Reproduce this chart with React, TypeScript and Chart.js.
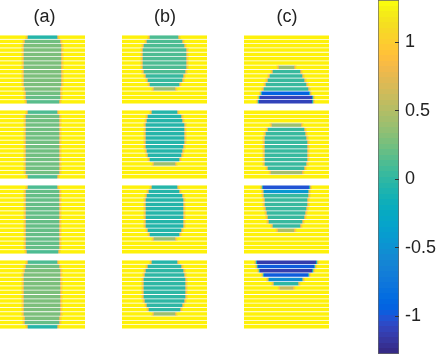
import React, { useEffect, useRef } from "react";
import { Chart, registerables } from "chart.js";

Chart.register(...registerables);

const rowLabels = ["1","2","3","4","5","6","7","8","9","10","11","12","13","14","15","16"];
const panelTitles = ["(a)", "(b)", "(c)"];
const colorTicks = [-1, -0.5, 0, 0.5, 1];
const colorMin = -1.277;
const colorMax = 1.307;
const background = 1.3;

// blob extent on each row (left edge, right edge) and field value inside it
const a1Left = [28,25,24,24,24,24,24,24,24,24,24,24,25,26,26,27];
const a1Right = [57,60,61,61,61,61,61,61,61,61,61,61,60,60,60,59];
const a1Value = [-0.05,0.25,0.3,0.3,0.3,0.3,0.3,0.3,0.3,0.3,0.3,0.3,0.3,0.25,0.2,0.15];
const a2Left = [28,26,26,26,26,26,26,26,26,26,26,26,26,26,26,28];
const a2Right = [57,59,59,59,59,59,59,59,59,59,59,59,59,59,59,57];
const a2Value = [0.12,0.25,0.25,0.25,0.25,0.25,0.25,0.25,0.25,0.25,0.25,0.25,0.25,0.25,0.25,0.1];
const a3Left = [28,26,26,26,26,26,26,26,26,26,26,26,26,26,26,27];
const a3Right = [57,59,59,59,59,59,59,59,59,59,59,59,59,59,59,58];
const a3Value = [0.12,0.22,0.22,0.22,0.22,0.22,0.22,0.22,0.22,0.22,0.22,0.22,0.22,0.22,0.22,0.1];
const a4Left = [28,26,25,24,24,24,24,24,24,24,24,24,24,25,25,28];
const a4Right = [57,59,60,60,60,60,60,60,60,60,60,60,60,59,59,57];
const a4Value = [0.12,0.25,0.3,0.3,0.3,0.3,0.3,0.3,0.3,0.3,0.3,0.3,0.3,0.3,0.2,-0.05];

const b1Left = [28,25,22,21,21,21,21,21,22,24,26,28,32,0,0,0];
const b1Right = [56,60,62,64,64,64,64,64,63,61,60,57,53,0,0,0];
const b1Value = [0.12,0.1,0.1,0.1,0.1,0.1,0.1,0.1,0.1,0.05,0.05,0.05,0.42,1.3,1.3,1.3];
const b2Left = [30,26,25,24,24,24,24,24,24,25,26,28,32,0,0,0];
const b2Right = [55,59,60,62,62,62,62,62,61,60,59,57,53,0,0,0];
const b2Value = [-0.05,-0.05,-0.05,-0.05,-0.05,-0.05,-0.05,-0.05,-0.05,-0.05,-0.05,-0.05,0.42,1.3,1.3,1.3];
const b3Left = [30,27,25,24,24,24,24,24,24,24,26,28,32,0,0,0];
const b3Right = [55,57,60,61,61,61,61,61,61,61,59,57,53,0,0,0];
const b3Value = [-0.05,-0.05,-0.05,-0.05,-0.05,-0.05,-0.05,-0.05,-0.05,-0.05,-0.05,-0.05,0.42,1.3,1.3,1.3];
const b4Left = [30,26,24,23,22,22,22,22,22,23,25,27,32,0,0,0];
const b4Right = [55,59,61,62,63,63,63,63,63,62,60,58,53,0,0,0];
const b4Value = [-0.05,-0.02,-0.02,-0.02,-0.02,-0.02,-0.02,-0.02,-0.02,-0.02,-0.02,-0.02,0.42,1.3,1.3,1.3];

const c1Left = [0,0,0,0,0,0,0,35,29,26,24,22,20,18,16,15];
const c1Right = [0,0,0,0,0,0,0,50,56,58,60,62,64,65,68,68];
const c1Value = [1.3,1.3,1.3,1.3,1.3,1.3,1.3,0.42,0.05,0.05,0.05,0.05,0.05,-0.95,-1.1,-1.1];
const c2Left = [0,0,0,28,24,22,21,21,21,21,21,21,21,24,27,0];
const c2Right = [0,0,0,57,60,61,62,63,63,63,63,63,62,60,58,0];
const c2Value = [1.3,1.3,1.3,0.42,0.05,0.05,0.05,0.05,0.05,0.05,0.05,0.05,0.05,0.05,0.45,1.3];
const c3Left = [19,20,20,21,21,22,23,24,25,29,34,0,0,0,0,0];
const c3Right = [65,64,64,63,63,62,61,60,58,56,50,0,0,0,0,0];
const c3Value = [-1.05,-0.45,0.02,0.02,0.02,0.02,0.02,0.02,0.02,0.05,0.5,1.3,1.3,1.3,1.3,1.3];
const c4Left = [13,14,16,20,25,30,36,0,0,0,0,0,0,0,0,0];
const c4Right = [72,70,68,64,58,54,49,0,0,0,0,0,0,0,0,0];
const c4Value = [-1.15,-1.0,-1.15,-1.0,-0.55,0,0.6,1.3,1.3,1.3,1.3,1.3,1.3,1.3,1.3,1.3];

const panels = [
  [a1Left, a1Right, a1Value, 0, 35], [a2Left, a2Right, a2Value, 0, 110], [a3Left, a3Right, a3Value, 0, 185], [a4Left, a4Right, a4Value, 0, 260],
  [b1Left, b1Right, b1Value, 122, 35], [b2Left, b2Right, b2Value, 122, 110], [b3Left, b3Right, b3Value, 122, 185], [b4Left, b4Right, b4Value, 122, 260],
  [c1Left, c1Right, c1Value, 244, 35], [c2Left, c2Right, c2Value, 244, 110], [c3Left, c3Right, c3Value, 244, 185], [c4Left, c4Right, c4Value, 244, 260],
] as [number[], number[], number[], number, number][];

const PANEL_W = 85;
const PANEL_H = 69;
const STRIPE_YELLOW = "rgb(254,241,10)";

const parula: number[][] = [
  [.2081,.1663,.5292],[.2116,.1898,.5777],[.2123,.2138,.627],[.2081,.2386,.6771],[.1959,.2645,.7279],[.1707,.2919,.7792],[.1253,.3242,.8303],[.0591,.3598,.8683],
  [.0117,.3875,.882],[.006,.4086,.8828],[.0165,.4266,.8786],[.0329,.443,.872],[.0498,.4586,.8641],[.0629,.4737,.8554],[.0723,.4887,.8467],[.0779,.504,.8384],
  [.0793,.52,.8312],[.0749,.5375,.8263],[.0641,.557,.824],[.0488,.5772,.8228],[.0343,.5966,.8199],[.0265,.6137,.8135],[.0239,.6287,.8038],[.0231,.6418,.7913],
  [.0228,.6535,.7768],[.0267,.6642,.7607],[.0384,.6743,.7436],[.059,.6838,.7254],[.0843,.6928,.7062],[.1133,.7015,.6859],[.1453,.7098,.6646],[.1801,.7177,.6424],
  [.2178,.725,.6193],[.2586,.7317,.5954],[.3022,.7376,.5712],[.3482,.7424,.5473],[.3953,.7459,.5244],[.442,.7481,.5033],[.4871,.7491,.484],[.53,.7491,.4661],
  [.5709,.7485,.4494],[.6099,.7473,.4337],[.6473,.7456,.4188],[.6834,.7435,.4044],[.7184,.7411,.3905],[.7525,.7384,.3768],[.7858,.7356,.3633],[.8185,.7327,.3498],
  [.8507,.7299,.336],[.8824,.7274,.3217],[.9139,.7258,.3063],[.945,.7261,.2886],[.9739,.7314,.2666],[.9938,.7455,.2403],[.999,.7653,.2164],[.9955,.7861,.1967],
  [.988,.8066,.1794],[.9789,.8271,.1633],[.9697,.8481,.1475],[.9626,.8705,.1309],[.9589,.8949,.1132],[.9598,.9218,.0948],[.9661,.9514,.0755],[.9763,.9831,.0538],
];

const levelColor = (i: number) => {
  const [r, g, b] = parula[i];
  return `rgb(${Math.round(r * 255)},${Math.round(g * 255)},${Math.round(b * 255)})`;
};
const colorOf = (v: number) => {
  const f = (v - colorMin) / (colorMax - colorMin);
  return levelColor(Math.max(0, Math.min(63, Math.round(f * 63))));
};

const FONT = '"Liberation Sans", Arial, sans-serif';

function panelConfig(left: number[], right: number[], value: number[]): any {
  const empty = (i: number) => right[i] <= left[i];
  const blend = (i: number, t: number) => colorOf(value[i] + t * (background - value[i]));
  const seg = (data: number[], backgroundColor: string | string[]) => ({ data, backgroundColor, borderWidth: 0, stack: "s", barPercentage: 0.8, categoryPercentage: 1 });
  const rows = rowLabels.map((_, i) => i);
  const fringe = rows.map((i) => (empty(i) ? 0 : 1));
  return {
    type: "bar",
    data: {
      labels: rowLabels,
      datasets: [
        seg(rows.map((i) => (empty(i) ? PANEL_W : left[i] - 3)), STRIPE_YELLOW),
        seg(fringe, rows.map((i) => blend(i, 0.9))),
        seg(fringe, rows.map((i) => blend(i, 0.72))),
        seg(fringe, rows.map((i) => blend(i, 0.42))),
        seg(rows.map((i) => (empty(i) ? 0 : right[i] - left[i])), rows.map((i) => colorOf(value[i]))),
        seg(fringe, rows.map((i) => blend(i, 0.42))),
        seg(fringe, rows.map((i) => blend(i, 0.72))),
        seg(fringe, rows.map((i) => blend(i, 0.9))),
        seg(rows.map((i) => (empty(i) ? 0 : PANEL_W - right[i] - 3)), STRIPE_YELLOW),
      ],
    },
    options: {
      indexAxis: "y",
      animation: false,
      responsive: false,
      layout: { padding: 0 },
      plugins: { legend: { display: false }, tooltip: { enabled: false }, title: { display: false } },
      scales: {
        x: { stacked: true, display: false, min: 0, max: PANEL_W },
        y: { stacked: true, display: false },
      },
    },
  };
}

const titlePlugin = {
  id: "panelTitles",
  afterDraw(chart: any) {
    const c = chart.ctx;
    const centers = [44.5, 165, 287];
    c.save();
    c.font = `18px ${FONT}`;
    c.fillStyle = "#222";
    c.textAlign = "center";
    c.textBaseline = "alphabetic";
    panelTitles.forEach((t, i) => c.fillText(t, centers[i], 22));
    c.restore();
  },
};

function colorbarConfig(): any {
  return {
    type: "bar",
    data: {
      labels: ["colorbar"],
      datasets: [
        {
          data: [[colorMin, colorMax]],
          barPercentage: 1,
          categoryPercentage: 1,
          borderWidth: 1,
          borderColor: "#666",
          borderSkipped: false,
          backgroundColor: (ctx: any) => {
            const area = ctx.chart.chartArea;
            if (!area) return "#fff";
            const g = ctx.chart.ctx.createLinearGradient(0, area.bottom, 0, area.top);
            parula.forEach((_, i) => {
              g.addColorStop(i / 64, levelColor(i));
              g.addColorStop((i + 1) / 64, levelColor(i));
            });
            return g;
          },
        },
      ],
    },
    options: {
      animation: false,
      responsive: false,
      layout: { padding: { left: 378, top: 0, bottom: 1, right: 0 } },
      plugins: { legend: { display: false }, tooltip: { enabled: false } },
      scales: {
        x: { display: false },
        y: {
          position: "right",
          min: colorMin,
          max: colorMax,
          afterBuildTicks: (s: any) => { s.ticks = colorTicks.map((value) => ({ value })); },
          afterFit: (s: any) => { s.width = 37; s.paddingTop = 0; s.paddingBottom = 0; },
          border: { display: false },
          grid: { drawOnChartArea: false, tickLength: -4, z: 1, color: "#333" },
          ticks: {
            padding: 10,
            color: "#222",
            font: { family: FONT, size: 18 },
            callback: (v: number) => String(v),
            autoSkip: false,
          },
        },
      },
    },
    plugins: [titlePlugin],
  };
}

export default function App() {
  const barRef = useRef<HTMLCanvasElement>(null);
  const panelRefs = useRef<(HTMLCanvasElement | null)[]>([]);
  useEffect(() => {
    const charts = [new Chart(barRef.current!, colorbarConfig())];
    panels.forEach(([l, r, v], i) => charts.push(new Chart(panelRefs.current[i]!, panelConfig(l, r, v))));
    return () => charts.forEach((c) => c.destroy());
  }, []);
  return (
    <div style={{ position: "absolute", left: 0, top: 0, width: 436, height: 355, overflow: "hidden", background: "#fff" }}>
      <canvas ref={barRef} width={436} height={355} style={{ position: "absolute", left: 0, top: 0 }} />
      {panels.map(([, , , x, y], i) => (
        <canvas
          key={i}
          ref={(el) => { panelRefs.current[i] = el; }}
          width={PANEL_W}
          height={PANEL_H}
          style={{ position: "absolute", left: x, top: y }}
        />
      ))}
    </div>
  );
}
